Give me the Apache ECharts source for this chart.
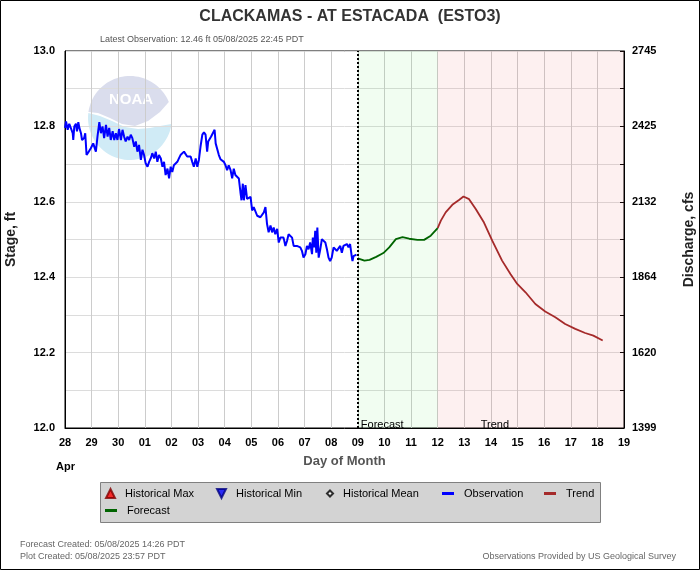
<!DOCTYPE html>
<html>
<head>
<meta charset="utf-8">
<script src="https://cdn.jsdelivr.net/npm/echarts@6/dist/echarts.min.js"></script>
<style>
html,body{margin:0;padding:0;background:#fff;}
#chart{width:700px;height:570px;}
</style>
</head>
<body>
<div id="chart"></div>
<script>
// ---- data ----
const dayLabels = ['28','29','30','01','02','03','04','05','06','07','08','09','10','11','12','13','14','15','16','17','18','19'];
const stageLabels = ['12.0','12.2','12.4','12.6','12.8','13.0'];
const dischargeLabels = ['1399','1620','1864','2132','2425','2745'];
const forecastStartDay = 11;   // 09 May
const trendStartDay = 14;      // 12 May

// [days since Apr 28 00:00, stage ft]
const observation = [
[0.00,12.796],[0.04,12.813],[0.10,12.791],[0.16,12.807],[0.22,12.811],[0.29,12.782],[0.31,12.764],[0.35,12.800],
[0.41,12.807],[0.45,12.787],[0.50,12.811],[0.54,12.796],[0.60,12.782],[0.64,12.764],[0.72,12.769],[0.76,12.782],
[0.81,12.724],[0.89,12.733],[0.97,12.742],[1.06,12.755],[1.16,12.733],[1.22,12.773],[1.29,12.811],[1.35,12.782],
[1.41,12.800],[1.47,12.769],[1.54,12.804],[1.60,12.773],[1.66,12.796],[1.72,12.764],[1.79,12.787],[1.85,12.764],
[1.91,12.782],[1.97,12.764],[2.03,12.793],[2.10,12.764],[2.16,12.791],[2.22,12.773],[2.28,12.760],[2.35,12.773],
[2.41,12.764],[2.47,12.778],[2.53,12.769],[2.60,12.746],[2.66,12.760],[2.72,12.733],[2.78,12.751],[2.85,12.711],
[2.91,12.738],[2.97,12.724],[3.03,12.702],[3.10,12.693],[3.16,12.706],[3.22,12.715],[3.28,12.729],[3.35,12.715],
[3.41,12.733],[3.47,12.706],[3.53,12.724],[3.60,12.715],[3.66,12.693],[3.72,12.706],[3.78,12.671],[3.85,12.688],
[3.91,12.662],[3.97,12.693],[4.03,12.679],[4.09,12.697],[4.16,12.702],[4.22,12.706],[4.28,12.715],[4.34,12.724],
[4.41,12.729],[4.47,12.733],[4.53,12.729],[4.59,12.720],[4.66,12.724],[4.72,12.720],[4.78,12.706],[4.84,12.693],
[4.91,12.715],[4.97,12.693],[5.03,12.711],[5.09,12.746],[5.16,12.778],[5.22,12.784],[5.28,12.778],[5.34,12.733],
[5.38,12.760],[5.43,12.764],[5.49,12.773],[5.56,12.769],[5.62,12.791],[5.66,12.755],[5.72,12.751],[5.78,12.724],
[5.84,12.713],[5.91,12.715],[5.97,12.706],[6.03,12.697],[6.09,12.684],[6.15,12.697],[6.22,12.684],[6.28,12.662],
[6.34,12.688],[6.40,12.671],[6.47,12.666],[6.53,12.662],[6.59,12.626],[6.63,12.604],[6.68,12.648],[6.72,12.604],
[6.78,12.644],[6.84,12.608],[6.90,12.613],[6.97,12.613],[7.03,12.577],[7.09,12.586],[7.15,12.590],[7.22,12.563],
[7.28,12.568],[7.34,12.559],[7.40,12.563],[7.47,12.572],[7.53,12.586],[7.59,12.541],[7.65,12.519],[7.72,12.537],
[7.78,12.519],[7.84,12.532],[7.90,12.514],[7.97,12.528],[8.03,12.492],[8.09,12.505],[8.15,12.510],[8.21,12.505],
[8.28,12.483],[8.34,12.496],[8.40,12.514],[8.46,12.519],[8.53,12.505],[8.59,12.483],[8.65,12.488],[8.71,12.483],
[8.78,12.479],[8.84,12.479],[8.90,12.470],[8.96,12.452],[9.03,12.461],[9.09,12.483],[9.15,12.474],[9.21,12.492],
[9.28,12.461],[9.31,12.505],[9.36,12.479],[9.40,12.523],[9.44,12.465],[9.48,12.532],[9.53,12.452],[9.59,12.474],
[9.65,12.501],[9.71,12.496],[9.78,12.492],[9.84,12.474],[9.90,12.452],[9.96,12.443],[10.02,12.452],[10.09,12.479],
[10.15,12.474],[10.21,12.470],[10.27,12.474],[10.34,12.483],[10.40,12.465],[10.46,12.483],[10.52,12.479],[10.59,12.488],
[10.65,12.479],[10.71,12.488],[10.75,12.483],[10.77,12.456],[10.80,12.443],[10.84,12.456],[10.95,12.460]
];

const forecast = [
[11.00,12.450],[11.25,12.444],[11.44,12.446],[11.69,12.454],[11.96,12.464],[12.18,12.479],[12.43,12.501],
[12.68,12.506],[12.93,12.502],[13.24,12.499],[13.49,12.499],[13.74,12.510],[14.00,12.530]
];

const trend = [
[14.00,12.530],[14.12,12.550],[14.30,12.572],[14.55,12.592],[14.80,12.605],[14.97,12.614],[15.18,12.607],
[15.43,12.581],[15.74,12.545],[16.05,12.497],[16.42,12.444],[16.74,12.408],[16.99,12.382],[17.30,12.360],
[17.67,12.329],[18.04,12.309],[18.42,12.294],[18.79,12.276],[19.17,12.263],[19.54,12.252],[19.85,12.245],[20.20,12.232]
];

// ---- chart ----
const FONT = 'Liberation Sans';
const chart = echarts.init(document.getElementById('chart'), null, {renderer:'canvas'});

function tenthIndex(v){ return Math.round((v - 12) * 10); }

function legendAt(name, left, top, icon, w, h){
  return {
    data:[{name:name, icon:icon}], left:left, top:top, padding:0,
    itemWidth:w, itemHeight:h, selectedMode:false,
    textStyle:{fontFamily:FONT, fontSize:11, color:'#000', padding:[0,0,0,5]}
  };
}

// decorative watermark (NOAA-style emblem)
const LC = {x:130, y:118, r:42};
function arcPts(a1, a2, n){
  const pts = [];
  for (let i = 0; i <= n; i++){
    const a = a1 + (a2 - a1) * i / n;
    pts.push([LC.x + LC.r * Math.cos(a), LC.y + LC.r * Math.sin(a)]);
  }
  return pts;
}
function angOf(p){ return Math.atan2(p[1] - LC.y, p[0] - LC.x); }
const c1 = [[168.8,102],[160,112],[148,121],[135,126],[122,124],[110,118],[98,113],[88.4,112]];
const c2 = [[88.4,113],[100,116],[112,121],[125,127],[138,129],[150,128],[160,126],[171.5,124]];
let aL = angOf(c1[c1.length-1]); if (aL < 0) aL += 2*Math.PI;
let aR = angOf(c1[0]); if (aR < 0) aR += 2*Math.PI;
const lavender = arcPts(aL, aR, 40).concat(c1);
const aR2 = angOf(c2[c2.length-1]);
let aL2 = angOf(c2[0]); if (aL2 < 0) aL2 += 2*Math.PI;
const cyan = arcPts(aR2, aL2, 40).concat(c2);

const option = {
  animation:false,
  backgroundColor:'#fff',
  textStyle:{fontFamily:FONT},
  title:{
    text:'CLACKAMAS - AT ESTACADA  (ESTO3)', left:'center', top:4,
    textStyle:{fontFamily:FONT, fontSize:16, fontWeight:'bold', color:'#333'}
  },
  grid:{left:65, right:76, top:51, bottom:142, containLabel:false, outerBoundsMode:'none',
    show:true, borderColor:'#000', borderWidth:1, backgroundColor:'transparent'},
  xAxis:{
    type:'value', min:0, max:21, interval:1,
    name:'Day of Month', nameLocation:'middle', nameGap:27,
    nameTextStyle:{fontFamily:FONT, fontSize:13, fontWeight:'bold', color:'#555'},
    axisLine:{lineStyle:{color:'#000'}},
    axisTick:{show:false},
    axisLabel:{margin:9, fontFamily:FONT, fontSize:11, fontWeight:'bold', color:'#000',
      formatter:function(v){ return dayLabels[Math.round(v)]; }},
    splitLine:{show:true, lineStyle:{color:'#cccccc', width:1}}
  },
  yAxis:[{
    type:'value', min:12, max:13, interval:0.1, position:'left',
    name:'Stage, ft', nameLocation:'middle', nameGap:47, nameRotate:90,
    nameTextStyle:{fontFamily:FONT, fontSize:14, fontWeight:'bold', color:'#222'},
    axisLine:{show:true, lineStyle:{color:'#000'}},
    axisTick:{show:false},
    axisLabel:{margin:10, fontFamily:FONT, fontSize:11, fontWeight:'bold', color:'#000',
      formatter:function(v){ const i = tenthIndex(v); return i % 2 === 0 ? stageLabels[i/2] : ''; }},
    splitLine:{show:true, lineStyle:{color:'#dcdcdc', width:1}}
  },{
    type:'value', min:12, max:13, interval:0.1, position:'right',
    name:'Discharge, cfs', nameLocation:'middle', nameGap:58, nameRotate:90,
    nameTextStyle:{fontFamily:FONT, fontSize:14, fontWeight:'bold', color:'#222'},
    axisLine:{show:true, lineStyle:{color:'#000'}},
    axisTick:{show:true, inside:true, length:4, lineStyle:{color:'#000'}},
    axisLabel:{margin:8, fontFamily:FONT, fontSize:11, fontWeight:'bold', color:'#000',
      formatter:function(v){ const i = tenthIndex(v); return i % 2 === 0 ? dischargeLabels[i/2] : ''; }},
    splitLine:{show:false}
  }],
  legend:[
    legendAt('Historical Max', 105, 488, 'triangle', 9, 9),
    legendAt('Historical Min', 216, 488, 'path://M0,0L10,0L5,10Z', 9, 9),
    legendAt('Historical Mean', 326, 488, 'diamond', 6, 6),
    legendAt('Observation', 442, 488, 'rect', 12, 3),
    legendAt('Trend', 544, 488, 'rect', 12, 3),
    legendAt('Forecast', 105, 505, 'rect', 12, 3)
  ],
  graphic:[
    {type:'rect', z:-10, silent:true, shape:{x:0.5, y:0.5, width:699, height:569}, style:{fill:null, stroke:'#000', lineWidth:1}},
    {type:'rect', z:1, silent:true, shape:{x:100.5, y:482.5, width:500, height:40}, style:{fill:'#d3d3d3', stroke:'#808080', lineWidth:1}},
    {type:'circle', z:-10, silent:true, shape:{cx:LC.x, cy:LC.y, r:LC.r}, style:{fill:'#ffffff'}},
    {type:'polygon', z:-10, silent:true, shape:{points:lavender}, style:{fill:'#dadded'}},
    {type:'polygon', z:-10, silent:true, shape:{points:cyan}, style:{fill:'#d0ebf6'}},
    {type:'text', z:-10, silent:true, x:131, y:92, style:{text:'NOAA', textAlign:'center', fill:'#ffffff', font:'bold 15px "Liberation Sans"'}},
    {type:'text', left:100, top:35, silent:true, style:{text:'Latest Observation: 12.46 ft 05/08/2025 22:45 PDT', fill:'#555', font:'9px "Liberation Sans"'}},
    {type:'text', left:56, top:461, silent:true, style:{text:'Apr', fill:'#000', font:'bold 11px "Liberation Sans"'}},
    {type:'text', left:20, top:540, silent:true, style:{text:'Forecast Created: 05/08/2025 14:26 PDT', fill:'#666', font:'9px "Liberation Sans"'}},
    {type:'text', left:20, top:552, silent:true, style:{text:'Plot Created: 05/08/2025 23:57 PDT', fill:'#666', font:'9px "Liberation Sans"'}},
    {type:'text', right:24, top:552, silent:true, style:{text:'Observations Provided by US Geological Survey', fill:'#666', font:'9px "Liberation Sans"'}}
  ],
  series:[
    {name:'zones', type:'line', data:[], silent:true,
      markArea:{silent:true,
        label:{show:true, position:'insideBottomLeft', distance:1, fontFamily:FONT, fontSize:11, color:'#000'},
        data:[
        [{name:'Forecast', xAxis:forecastStartDay, itemStyle:{color:'rgba(60,220,60,0.07)'},
          label:{offset:[2,3]}},
         {xAxis:trendStartDay}],
        [{name:'Trend', xAxis:trendStartDay, itemStyle:{color:'rgba(235,90,90,0.09)'},
          label:{offset:[42,3]}},
         {xAxis:21}]
      ]},
      markLine:{silent:true, symbol:'none', label:{show:false},
        lineStyle:{color:'#000', type:[2,2], width:2},
        data:[{xAxis:forecastStartDay}]}
    },
    {name:'Historical Max', type:'scatter', data:[], itemStyle:{color:'#ff0000', borderColor:'#800000', borderWidth:0.5}},
    {name:'Historical Min', type:'scatter', data:[], itemStyle:{color:'#0000ff', borderColor:'#000080', borderWidth:0.5}},
    {name:'Historical Mean', type:'scatter', data:[], itemStyle:{color:'#ffffff', borderColor:'#000', borderWidth:1}},
    {name:'Observation', type:'line', data:observation, showSymbol:false, z:3,
      lineStyle:{color:'#0000ff', width:2}, itemStyle:{color:'#0000ff'}},
    {name:'Trend', type:'line', data:trend, showSymbol:false, z:3,
      lineStyle:{color:'#a52a2a', width:1.8}, itemStyle:{color:'#a52a2a'}},
    {name:'Forecast', type:'line', data:forecast, showSymbol:false, z:3,
      lineStyle:{color:'#006400', width:1.8}, itemStyle:{color:'#006400'}}
  ]
};
chart.setOption(option);
</script>
</body>
</html>
